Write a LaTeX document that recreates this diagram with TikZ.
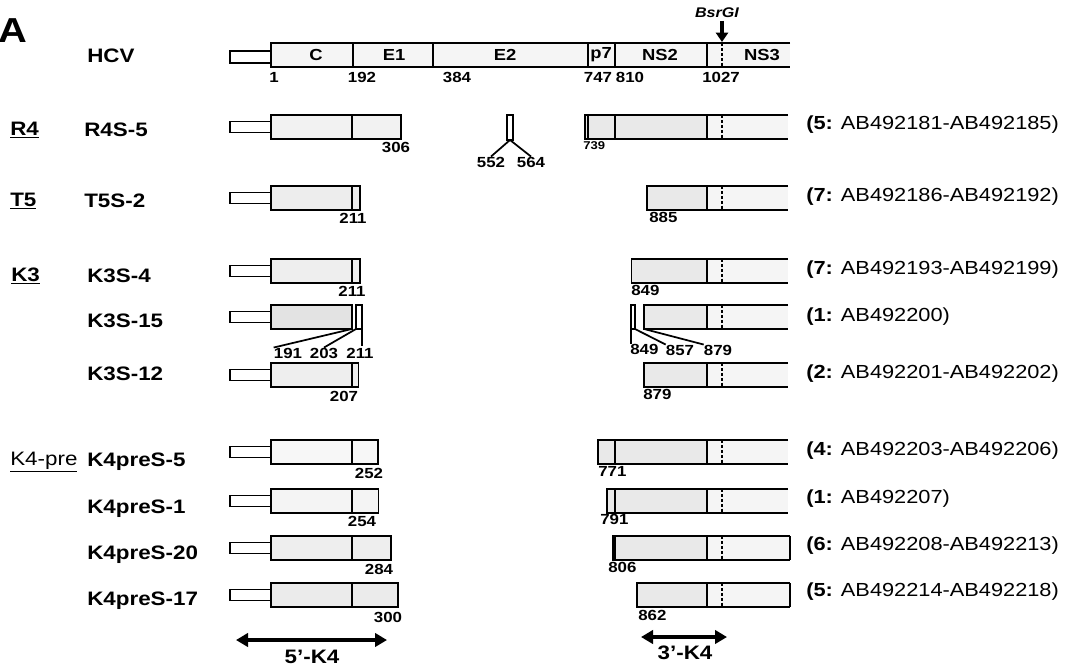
\documentclass[tikz,border=0pt]{standalone}
\usepackage{fontspec}
\setmainfont[FakeStretch=1.15]{Liberation Sans}
\usetikzlibrary{arrows.meta}

% residue number -> x position (pixels)
\newcommand{\aapos}[1]{271+0.425*(#1-1)}

\newcommand{\rowfont}{\fontsize{14.6}{16}\selectfont\bfseries}
\newcommand{\numfont}{\fontsize{11}{12}\selectfont\bfseries}
\newcommand{\tinynum}{\fontsize{8.5}{9}\selectfont\bfseries}
\newcommand{\segfont}{\fontsize{12}{13}\selectfont\bfseries}
\newcommand{\accfont}{\fontsize{14.2}{16}\selectfont}

% 5' part: y, last residue, fill
\newcommand{\fivebar}[3]{%
  \draw[utr] (230,#1-5.5) rectangle (271,#1+5.5);
  \draw[seg, fill=#3] (271,#1-12) rectangle ({\aapos{#2}},#1+12);
  \draw[seg] ({\aapos{192}},#1-12) -- ({\aapos{192}},#1+12);
}
% 3' part: y, first residue, right end
\newcommand{\threebar}[3]{%
  \fill[dense] ({\aapos{#2}},#1-12) rectangle (707,#1+12);
  \fill[light] (707,#1-12) rectangle (#3,#1+12);
  \draw[seg] (#3,#1-12) -- ({\aapos{#2}},#1-12) -- ({\aapos{#2}},#1+12) -- (#3,#1+12);
  \draw[seg] (707,#1-12) -- (707,#1+12);
  \draw[bsr] (722,#1-12) -- (722,#1+12);
}

\begin{document}
\begin{tikzpicture}[x=0.75pt, y=-0.75pt,
    seg/.style={line width=1.3pt},
    utr/.style={line width=1.3pt, fill=white},
    bsr/.style={line width=1.6pt, dash pattern=on 2.2pt off 1.5pt},
    dense/.style={fill=gray!17},
    light/.style={fill=gray!8},
    rowlab/.style={inner sep=0pt, anchor=west, font=\rowfont},
    numlab/.style={inner sep=0pt, font=\numfont},
    acclab/.style={inner sep=0pt, anchor=west, font=\accfont},
    seglab/.style={inner sep=0pt, font=\segfont},
    k4arrow/.style={line width=3.2pt, {Triangle[length=9pt,width=10pt]}-{Triangle[length=9pt,width=10pt]}}]
    \useasboundingbox (0,0) rectangle (1069,667);

    % Panel letter and genome map
    \node[inner sep=0pt, font=\fontsize{26}{28}\selectfont\bfseries] (panel) at (13,31) {A};
    \node[rowlab] (hcv) at (87,56) {HCV};
    \draw[utr] (230,51) rectangle (271,63);
    \fill[light] (271,43) rectangle (790,67);
    \draw[seg] (790,43) -- (271,43) -- (271,67) -- (790,67);
    \foreach \x in {353,433,588,615,707}
        \draw[seg] (\x,43) -- (\x,67);
    \draw[bsr] (722,43) -- (722,67);
    \foreach \x/\t in {316/C, 394/E1, 505/E2, 601/p7, 660/NS2, 762/NS3}
        \node[seglab] (seg-\t) at (\x,55) {\t};
    \foreach \x/\t in {274/1, 362/192, 457/384, 598/747, 630/810, 721/1027}
        \node[numlab] (hcv-\t) at (\x,77) {\t};
    \coordinate (bsrsite) at (722,42);
    \node[inner sep=0pt, font=\fontsize{10.5}{11}\selectfont\bfseries\itshape] (bsrgi) at (717,13) {BsrGI};
    \draw[line width=3pt, -{Triangle[length=7pt,width=9pt]}, shorten <=2pt] (bsrgi.south -| bsrsite) -- (bsrsite);

    % R4
    \node[rowlab] (r4) at (10,130) {\underline{R4}};
    \node[rowlab] (r4s5) at (84,130) {R4S-5};
    \fivebar{127}{306}{gray!10}
    \node[numlab] (r4-306) at (396,147) {306};
    \draw[seg] (507,115) rectangle (513,140);
    \coordinate (ins) at (510,140);
    \node[numlab] (r4-552) at (491,162) {552};
    \node[numlab] (r4-564) at (531,162) {564};
    \draw[seg] (ins) -- (r4-552.north);
    \draw[seg] (ins) -- (r4-564.north);
    \threebar{127}{739}{788}
    \draw[seg] (588,115) -- (588,139);
    \draw[seg] (615,115) -- (615,139);
    \node[inner sep=0pt, anchor=north west, font=\tinynum] (r4-739) at (583,141) {739};
    \node[acclab] (r4acc) at (806,125) {\textbf{(5:} AB492181-AB492185)};

    % T5
    \node[rowlab] (t5) at (10,201) {\underline{T5}};
    \node[rowlab] (t5s2) at (84,201) {T5S-2};
    \fivebar{198}{211}{gray!14}
    \node[numlab] (t5-211) at (353,218) {211};
    \threebar{198}{885}{788}
    \node[numlab, anchor=north west] (t5-885) at (649,212) {885};
    \node[acclab] (t5acc) at (806,197) {\textbf{(7:} AB492186-AB492192)};

    % K3
    \node[rowlab] (k3) at (11,276) {\underline{K3}};
    \node[rowlab] (k3s4) at (87,276) {K3S-4};
    \fivebar{271}{211}{gray!13}
    \node[numlab] (k3s4-211) at (352,291) {211};
    \threebar{271}{849}{788}
    \node[numlab, anchor=north west] (k3s4-849) at (631,285) {849};
    \node[acclab] (k3s4acc) at (806,270) {\textbf{(7:} AB492193-AB492199)};

    \node[rowlab] (k3s15) at (87,321) {K3S-15};
    \draw[utr] (230,311.5) rectangle (271,322.5);
    \draw[seg, fill=gray!22] (271,305) rectangle ({\aapos{191}},329);
    \draw[seg] (356,305) rectangle (362,329);
    \node[numlab] (k15-191) at (288,353) {191};
    \node[numlab] (k15-203) at (324,353) {203};
    \node[numlab] (k15-211) at (360,353) {211};
    \draw[seg] ({\aapos{191}},329) -- (k15-191.north west);
    \draw[seg] (356,329) -- (k15-203.north);
    \draw[seg] (362,329) -- (362,346);
    \draw[seg] (631,305) rectangle (635,329);
    \threebar{317}{879}{788}
    \node[numlab, anchor=north west] (k15-849) at (630,344) {849};
    \node[numlab] (k15-857) at (680,350) {857};
    \node[numlab] (k15-879) at (718,350) {879};
    \draw[seg] (631,329) -- (631,344);
    \draw[seg] (635,329) -- (k15-857.north west);
    \draw[seg] ({\aapos{879}},329) -- (k15-879.north west);
    \node[acclab] (k3s15acc) at (806,317) {\textbf{(1:} AB492200)};

    \node[rowlab] (k3s12) at (87,374) {K3S-12};
    \fivebar{375}{207}{gray!13}
    \node[numlab] (k3s12-207) at (344,396) {207};
    \threebar{375}{879}{788}
    \node[numlab, anchor=north west] (k3s12-879) at (643,389) {879};
    \node[acclab] (k3s12acc) at (806,374) {\textbf{(2:} AB492201-AB492202)};

    % K4-pre
    \node[inner sep=0pt, anchor=west, font=\fontsize{14.6}{16}\selectfont] (k4pre) at (10,462) {\underline{K4-pre}};
    \node[rowlab] (k4s5) at (87,462) {K4preS-5};
    \fivebar{452}{252}{gray!6}
    \node[numlab] (k4s5-252) at (369,473) {252};
    \threebar{452}{771}{788}
    \draw[seg] (615,440) -- (615,464);
    \node[numlab, anchor=north west] (k4s5-771) at (598,466) {771};
    \node[acclab] (k4s5acc) at (806,451) {\textbf{(4:} AB492203-AB492206)};

    \node[rowlab] (k4s1) at (87,509) {K4preS-1};
    \fivebar{501}{254}{gray!9}
    \node[numlab] (k4s1-254) at (362,521) {254};
    \threebar{501}{791}{788}
    \draw[seg] (615,489) -- (615,513);
    \node[numlab, anchor=north west] (k4s1-791) at (600,514) {791};
    \node[acclab] (k4s1acc) at (806,499) {\textbf{(1:} AB492207)};

    \node[rowlab] (k4s20) at (87,555) {K4preS-20};
    \fivebar{548}{284}{gray!13}
    \node[numlab] (k4s20-284) at (379,569) {284};
    \threebar{548}{806}{790}
    \draw[seg] (790,536) -- (790,560);
    \draw[seg] (615,536) -- (615,560);
    \node[numlab, anchor=north west] (k4s20-806) at (608,562) {806};
    \node[acclab] (k4s20acc) at (806,546) {\textbf{(6:} AB492208-AB492213)};

    \node[rowlab] (k4s17) at (87,601) {K4preS-17};
    \fivebar{595}{300}{gray!16}
    \node[numlab] (k4s17-300) at (388,617) {300};
    \threebar{595}{862}{790}
    \draw[seg] (790,583) -- (790,607);
    \node[numlab, anchor=north west] (k4s17-862) at (638,610) {862};
    \node[acclab] (k4s17acc) at (806,592) {\textbf{(5:} AB492214-AB492218)};

    % Fragments
    \coordinate (k5a) at (236,640);
    \coordinate (k5b) at (387,640);
    \draw[k4arrow] (k5a) -- (k5b);
    \node[rowlab, anchor=center] (k5lab) at (312,657) {5’-K4};
    \coordinate (k3a) at (641,637);
    \coordinate (k3b) at (727,637);
    \draw[k4arrow] (k3a) -- (k3b);
    \node[rowlab, anchor=center] (k3lab) at (685,653) {3’-K4};
\end{tikzpicture}
\end{document}
